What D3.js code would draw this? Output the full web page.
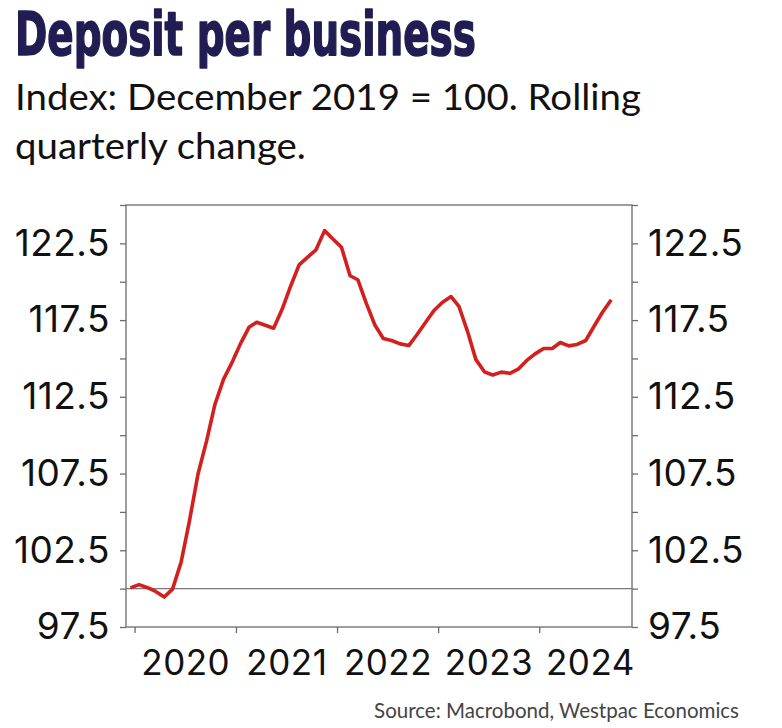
<!DOCTYPE html>
<html>
<head>
<meta charset="utf-8">
<script src="https://cdn.jsdelivr.net/npm/d3@7"></script>
<style>
  html, body { margin: 0; padding: 0; background: #ffffff; }
  svg { display: block; }
</style>
</head>
<body>
<svg id="chart" width="782" height="728"></svg>
<script>
// ---- Data ----
const months = [
  "2019-12","2020-01","2020-02","2020-03","2020-04","2020-05","2020-06","2020-07","2020-08","2020-09","2020-10","2020-11",
  "2020-12","2021-01","2021-02","2021-03","2021-04","2021-05","2021-06","2021-07","2021-08","2021-09","2021-10","2021-11",
  "2021-12","2022-01","2022-02","2022-03","2022-04","2022-05","2022-06","2022-07","2022-08","2022-09","2022-10","2022-11",
  "2022-12","2023-01","2023-02","2023-03","2023-04","2023-05","2023-06","2023-07","2023-08","2023-09","2023-10","2023-11",
  "2023-12","2024-01","2024-02","2024-03","2024-04","2024-05","2024-06","2024-07","2024-08","2024-09"
];
const depositIndex = [
  100.05, 100.26, 100.06, 99.82, 99.45, 99.97, 101.73, 104.4, 107.47, 109.63, 112.0, 113.64,
  114.71, 115.95, 117.03, 117.36, 117.16, 116.97, 118.22, 119.69, 121.10, 121.60, 122.08, 123.33,
  122.79, 122.25, 120.39, 120.13, 118.57, 117.2, 116.3, 116.17, 115.95, 115.84, 116.56, 117.36,
  118.12, 118.66, 119.03, 118.40, 116.77, 114.94, 114.13, 113.92, 114.11, 114.03, 114.3, 114.87,
  115.30, 115.65, 115.65, 116.04, 115.82, 115.91, 116.17, 117.10, 118.03, 118.83
];
const yTicks = [97.5, 100, 102.5, 105, 107.5, 110, 112.5, 115, 117.5, 120, 122.5, 125];
const yLabels = ["97.5", "102.5", "107.5", "112.5", "117.5", "122.5"];
const xYears = ["2020", "2021", "2022", "2023", "2024"];
const title = "Deposit per business";
const subtitleLines = ["Index: December 2019 = 100. Rolling", "quarterly change."];
const source = "Source: Macrobond, Westpac Economics";

// ---- Layout ----
const svg = d3.select("#chart");
const plot = { left: 126, right: 632, top: 205, bottom: 627 };
const parse = d3.timeParse("%Y-%m-%d");
const data = months.map((m, i) => ({ date: parse(m + "-17"), value: depositIndex[i] }));

const x = d3.scaleTime()
  .domain([parse("2019-12-01"), parse("2024-12-01")])
  .range([plot.left, plot.right]);
const y = d3.scaleLinear().domain([97.5, 125]).range([plot.bottom, plot.top]);

const axisColor = "#6b6b6b";
const labelFont = "Inter, 'Noto Sans', sans-serif";

// Title (fit to the reference width by horizontal scaling)
const titleText = svg.append("text")
  .attr("x", 0).attr("y", 0)
  .attr("font-family", "'Liberation Sans Narrow', 'DejaVu Sans Condensed', sans-serif")
  .attr("font-weight", 700)
  .attr("font-size", 60)
  .attr("fill", "#211d52")
  .attr("stroke", "#211d52")
  .attr("stroke-width", 1.6)
  .attr("stroke-linejoin", "round")
  .text(title);
const tw = titleText.node().getComputedTextLength();
titleText.attr("transform", `translate(15,55) scale(${461 / tw},1)`);

// Subtitle, fit line 1 to reference width
const subFont = "Lato, 'Noto Sans', sans-serif";
const sub = svg.append("g").attr("class", "subtitle");
const subLines = sub.selectAll("text").data(subtitleLines).enter().append("text")
  .attr("x", 0).attr("y", 0)
  .attr("font-family", subFont)
  .attr("font-size", 37)
  .attr("fill", "#111")
  .text(d => d);
const sw = subLines.nodes()[0].getComputedTextLength();
const sScale = 626 / sw;
subLines.attr("transform", (d, i) => `translate(15,${110 + i * 49}) scale(${sScale},1)`);

// Frame
svg.append("rect")
  .attr("x", plot.left).attr("y", plot.top)
  .attr("width", plot.right - plot.left).attr("height", plot.bottom - plot.top)
  .attr("fill", "none").attr("stroke", axisColor).attr("stroke-width", 1.3);

// Reference line at 100
svg.append("line")
  .attr("x1", plot.left).attr("x2", plot.right)
  .attr("y1", y(100)).attr("y2", y(100))
  .attr("stroke", "#7a7a7a").attr("stroke-width", 1.1);

const fmtY = d => (yLabels.includes(String(d)) ? String(d) : "");

function styleAxis(g, size) {
  g.select(".domain").remove();
  g.selectAll(".tick line").attr("stroke", axisColor).attr("stroke-width", 1.3);
  g.selectAll(".tick text")
    .attr("font-family", labelFont).attr("font-size", size).attr("fill", "#111")
    .attr("letter-spacing", "0.5px");
}

svg.append("g")
  .attr("transform", `translate(${plot.left},0)`)
  .call(d3.axisLeft(y).tickValues(yTicks).tickFormat(fmtY).tickSize(6).tickPadding(10))
  .call(styleAxis, 37);

svg.append("g")
  .attr("transform", `translate(${plot.right},0)`)
  .call(d3.axisRight(y).tickValues(yTicks).tickFormat(fmtY).tickSize(6).tickPadding(10))
  .call(styleAxis, 37);

// Year ticks
svg.append("g")
  .attr("transform", `translate(0,${plot.bottom})`)
  .call(d3.axisBottom(x).tickValues(xYears.map(yr => parse(yr + "-01-01"))).tickFormat("").tickSize(6))
  .call(styleAxis, 35);

// Year labels at mid-year
svg.append("g")
  .attr("transform", `translate(0,${plot.bottom})`)
  .call(d3.axisBottom(x).tickValues(xYears.map(yr => parse(yr + "-07-02"))).tickFormat(d3.timeFormat("%Y")).tickSize(0).tickPadding(23))
  .call(styleAxis, 35);

// Line
svg.append("path")
  .datum(data)
  .attr("fill", "none")
  .attr("stroke", "#d41f1f")
  .attr("stroke-width", 3.6)
  .attr("stroke-linejoin", "round")
  .attr("d", d3.line().x(d => x(d.date)).y(d => y(d.value)));

// Source
svg.append("text")
  .attr("x", 739).attr("y", 718)
  .attr("text-anchor", "end")
  .attr("font-family", "Lato, 'Noto Sans', sans-serif")
  .attr("font-size", 20.5)
  .attr("fill", "#444")
  .text(source);
</script>
</body>
</html>
